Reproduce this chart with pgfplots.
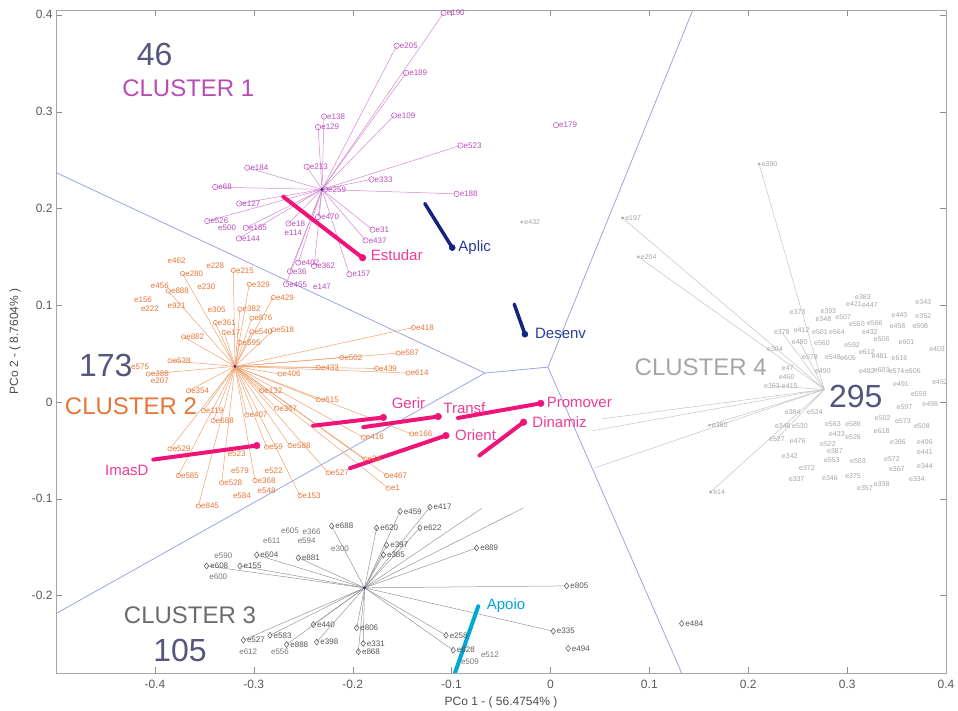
\documentclass[border=0pt]{standalone}
\usepackage{pgfplots}
\pgfplotsset{compat=1.18}
\usepackage{pgfplotstable}
\usepackage{fontspec}
\setmainfont{Liberation Sans}
\setsansfont{Liberation Sans}
\definecolor{c1}{RGB}{185,75,185}
\definecolor{c1l}{RGB}{210,135,210}
\definecolor{c2}{RGB}{230,118,55}
\definecolor{c2l}{RGB}{240,160,110}
\definecolor{c3}{RGB}{85,85,85}
\definecolor{c3l}{RGB}{150,150,150}
\definecolor{c4}{RGB}{165,165,165}
\definecolor{c4l}{RGB}{195,195,195}
\definecolor{pinkc}{RGB}{240,20,120}
\definecolor{pinkt}{RGB}{238,60,150}
\definecolor{navyc}{RGB}{20,35,130}
\definecolor{navyt}{RGB}{40,60,150}
\definecolor{cyanc}{RGB}{0,168,212}
\definecolor{vor}{RGB}{155,165,225}
\definecolor{numc}{RGB}{85,85,125}
\newcommand{\lab}{\fontsize{8}{8}\selectfont}
\newcommand{\labs}{\fontsize{7}{7}\selectfont}

\pgfplotstableread{
x y lab
-0.108 0.402 e190
-0.1555 0.368 e205
-0.146 0.340 e189
-0.158 0.296 e109
-0.229 0.295 e138
-0.235 0.284 e129
-0.091 0.265 e523
-0.095 0.215 e188
-0.181 0.230 e333
-0.2465 0.243 e213
-0.3066 0.242 e184
-0.339 0.222 e68
-0.3147 0.205 e127
-0.347 0.187 e526
-0.308 0.180 e185
-0.315 0.169 e144
-0.265 0.1845 e18
-0.235 0.191 e470
-0.180 0.178 e31
-0.187 0.167 e437
-0.2034 0.132 e157
-0.239 0.1405 e362
-0.255 0.144 e402
-0.2634 0.135 e36
-0.2674 0.1216 e455
-0.228 0.2196 e259
}\clA

\pgfplotstableread{
x y lab
-0.260 0.175 e114
-0.231 0.119 e147
-0.327 0.180 e500
}\clAt

\pgfplotstableread{
x y lab
-0.372 0.1327 e280
-0.3207 0.136 e215
-0.3046 0.1216 e329
-0.2803 0.108 e429
-0.314 0.0959 e382
-0.302 0.0866 e876
-0.339 0.082 e361
-0.330 0.072 e17
-0.302 0.0725 e540
-0.280 0.0745 e518
-0.371 0.0673 e882
-0.314 0.0615 e595
-0.3864 0.1147 e888
-0.3847 0.0426 e538
-0.2735 0.0289 e406
-0.211 0.046 e502
-0.154 0.0505 e587
-0.176 0.0347 e439
-0.144 0.0299 e614
-0.2348 0.0358 e433
-0.4067 0.0289 e388
-0.366 0.0117 e354
-0.292 0.0117 e132
-0.2348 0.0024 e615
-0.351 -0.009 e119
-0.307 -0.0134 e407
-0.2769 -0.0065 e367
-0.341 -0.0193 e688
-0.1893 -0.0364 e416
-0.1403 -0.033 e166
-0.1876 -0.0588 e24
-0.2247 -0.0732 e527
-0.1657 -0.076 e467
-0.164 -0.089 e1
-0.3847 -0.0485 e529
-0.287 -0.0467 e59
-0.2634 -0.045 e588
-0.3763 -0.076 e585
-0.3325 -0.0835 e528
-0.2988 -0.0811 e368
-0.2533 -0.0966 e153
-0.356 -0.1075 e845
-0.1387 0.077 e418
}\clB

\pgfplotstableread{
x y lab
-0.378 0.1457 e462
-0.339 0.141 e228
-0.348 0.119 e230
-0.412 0.106 e156
-0.405 0.096 e222
-0.378 0.099 e921
-0.395 0.120 e456
-0.415 0.036 e575
-0.395 0.022 e207
-0.314 -0.0708 e579
-0.280 -0.0708 e522
-0.312 -0.0972 e584
-0.287 -0.0914 e548
-0.3375 0.095 e305
-0.3173 -0.0536 e523
}\clBt

\pgfplotstableread{
x y lab
-0.2212 -0.1282 e688
-0.1758 -0.1302 e620
-0.152 -0.113 e459
-0.1218 -0.1086 e417
-0.132 -0.130 e622
-0.1657 -0.148 e397
-0.169 -0.158 e385
-0.255 -0.161 e881
-0.3477 -0.1694 e608
-0.314 -0.1694 e155
-0.297 -0.158 e604
-0.3106 -0.246 e527
-0.2836 -0.241 e583
-0.2668 -0.2505 e888
-0.2364 -0.248 e398
-0.2398 -0.230 e440
-0.196 -0.2333 e806
-0.1893 -0.2495 e331
-0.1943 -0.258 e868
-0.0747 -0.1508 e889
0.0164 -0.190 e805
0.0028 -0.2368 e335
-0.1056 -0.241 e258
-0.0983 -0.2564 e628
}\clC

\pgfplotstableread{
x y
-0.0696 -0.110
-0.0275 -0.1096
}\clCx

\pgfplotstableread{
x y lab
-0.2634 -0.1327 e605
-0.2415 -0.1344 e366
-0.2819 -0.143 e611
-0.2465 -0.143 e594
-0.3308 -0.1584 e590
-0.3359 -0.1807 e600
-0.2128 -0.1515 e300
-0.3056 -0.258 e612
-0.2735 -0.258 e556
-0.0814 -0.2684 e509
-0.0612 -0.2615 e512
}\clCt

\pgfplotstableread{
x y
0.211 0.246
0.073 0.190
0.0888 0.150
0.162 -0.093
0.1606 -0.024
0.0518 -0.0175
0.043 -0.0296
0.045 -0.068
0.234 0.072
0.224 0.0165
0.229 -0.038
0.252 0.062
}\clDl

\pgfplotstableread{
x y lab
0.211 0.246 e390
0.073 0.190 e197
0.0888 0.150 e204
0.162 -0.093 e14
0.1606 -0.024 e380
-0.029 0.186 e432
}\clDs

\pgfplotstableread{
x y lab
0.316 0.108 e383
0.307 0.101 e421
0.323 0.100 e447
0.377 0.103 e343
0.250 0.093 e373
0.281 0.094 e393
0.276 0.0856 e348
0.296 0.0876 e507
0.353 0.0897 e443
0.377 0.0887 e352
0.310 0.0804 e550
0.328 0.0814 e566
0.351 0.0784 e458
0.374 0.0784 e508
0.234 0.0722 e378
0.254 0.0742 e412
0.2725 0.0722 e501
0.2897 0.0722 e564
0.323 0.0722 e432
0.335 0.065 e506
0.360 0.0619 e601
0.391 0.0546 e403
0.252 0.0619 e480
0.2745 0.0608 e560
0.305 0.0588 e592
0.227 0.0546 e304
0.2624 0.0464 e578
0.2856 0.0464 e548
0.301 0.0454 e605
0.320 0.0515 e612
0.333 0.0474 e481
0.353 0.0454 e616
0.240 0.035 e47
0.2755 0.032 e490
0.320 0.032 e482
0.335 0.033 e603
0.350 0.032 e574
0.3665 0.032 e606
0.394 0.0206 e452
0.239 0.0258 e460
0.224 0.0165 e353
0.242 0.0165 e415
0.3545 0.0185 e491
0.3725 0.0085 e559
0.358 -0.0052 e597
0.384 -0.002 e498
0.245 -0.0103 e384
0.2675 -0.0103 e524
0.336 -0.0165 e502
0.235 -0.0247 e348
0.2523 -0.0247 e530
0.2856 -0.0227 e563
0.306 -0.0227 e589
0.3565 -0.0196 e573
0.3756 -0.0247 e508
0.2897 -0.033 e433
0.306 -0.036 e526
0.335 -0.030 e618
0.229 -0.038 e527
0.250 -0.040 e476
0.2806 -0.0433 e522
0.3514 -0.0412 e396
0.3787 -0.0412 e496
0.2877 -0.0505 e387
0.3787 -0.0515 e441
0.242 -0.0557 e342
0.311 -0.0608 e503
0.2846 -0.0598 e553
0.3453 -0.0588 e572
0.2594 -0.068 e372
0.3503 -0.069 e367
0.3787 -0.066 e344
0.249 -0.0794 e337
0.2826 -0.0784 e346
0.306 -0.0763 e375
0.335 -0.0845 e338
0.318 -0.0887 e357
0.3706 -0.0794 e334
}\clDt

\begin{document}
\begin{tikzpicture}
\useasboundingbox (0,0) rectangle (958pt,711pt);
\begin{axis}[
  at={(56pt,38pt)}, anchor=south west,
  scale only axis, width=890pt, height=663pt,
  xmin=-0.5, xmax=0.4, ymin=-0.28, ymax=0.405,
  xtick={-0.4,-0.3,-0.2,-0.1,0,0.1,0.2,0.3,0.4},
  ytick={-0.2,-0.1,0,0.1,0.2,0.3,0.4},
  /pgf/number format/assume math mode=true,
  ticklabel style={font=\fontsize{12}{12}\selectfont, text=black!65},
  xticklabel style={yshift=-4pt},
  axis line style={black!35},
  tick style={black!45},
  major tick length=6pt,
  xlabel={PCo 1 - ( 56.4754\% )},
  ylabel={PCo 2 - ( 8.7604\% )},
  label style={font=\fontsize{12}{12}\selectfont, text=black!70},
  xlabel style={at={(axis description cs:0.5,-0.044)}, anchor=center},
  ylabel style={at={(axis description cs:-0.046,0.5)}, anchor=center},
  clip=true,
]
% Voronoi boundaries
\addplot[vor, line width=0.8pt, mark=none] coordinates {(-0.5,0.237) (-0.0662,0.0299) (-0.5,-0.2186)};
\addplot[vor, line width=0.8pt, mark=none] coordinates {(-0.0662,0.0299) (-0.0025,0.036)};
\addplot[vor, line width=0.8pt, mark=none] coordinates {(0.144,0.405) (-0.0025,0.036) (0.1327,-0.28)};

% spokes
\addplot[c1l, line width=0.5pt, mark=none, quiver={u=\thisrow{x}+0.231, v=\thisrow{y}-0.2196}] table[x expr=-0.231, y expr=0.2196] {\clA};
\addplot[c2l, line width=0.5pt, mark=none, quiver={u=\thisrow{x}+0.319, v=\thisrow{y}-0.0368}] table[x expr=-0.319, y expr=0.0368] {\clB};
\addplot[c3l, line width=0.5pt, mark=none, quiver={u=\thisrow{x}+0.188, v=\thisrow{y}+0.192}] table[x expr=-0.188, y expr=-0.192] {\clC};
\addplot[c3l, line width=0.5pt, mark=none, quiver={u=\thisrow{x}+0.188, v=\thisrow{y}+0.192}] table[x expr=-0.188, y expr=-0.192] {\clCx};
\addplot[c4l, line width=0.5pt, mark=none, quiver={u=\thisrow{x}-0.277, v=\thisrow{y}-0.013}] table[x expr=0.277, y expr=0.013] {\clDl};

% cluster 1
\addplot[c1, only marks, mark=o, mark size=2.7pt, mark options={line width=0.5pt},
  nodes near coords, point meta=explicit symbolic,
  every node near coord/.append style={anchor=west, font=\lab, text=c1, inner sep=0pt, xshift=3pt}]
  table[meta=lab] {\clA};
\addplot[draw=none, mark=none, nodes near coords, point meta=explicit symbolic,
  every node near coord/.append style={anchor=center, font=\lab, text=c1, inner sep=0pt}]
  table[meta=lab] {\clAt};
\addplot[c1, only marks, mark=o, mark size=2.7pt, mark options={line width=0.5pt},
  nodes near coords, point meta=explicit symbolic,
  every node near coord/.append style={anchor=west, font=\lab, text=c1, inner sep=0pt, xshift=3pt}]
  table[meta=lab] {
x y lab
0.0056 0.286 e179
};

% cluster 2
\addplot[c2, only marks, mark=o, mark size=2.2pt, mark options={line width=0.5pt},
  nodes near coords, point meta=explicit symbolic,
  every node near coord/.append style={anchor=west, font=\lab, text=c2, inner sep=0pt, xshift=2.5pt}]
  table[meta=lab] {\clB};
\addplot[draw=none, mark=none, nodes near coords, point meta=explicit symbolic,
  every node near coord/.append style={anchor=center, font=\lab, text=c2, inner sep=0pt}]
  table[meta=lab] {\clBt};

% cluster 3
\addplot[c3, only marks, mark=diamond, mark size=3pt, mark options={line width=0.5pt},
  nodes near coords, point meta=explicit symbolic,
  every node near coord/.append style={anchor=west, font=\lab, text=c3, inner sep=0pt, xshift=3.5pt}]
  table[meta=lab] {\clC};
\addplot[c3, only marks, mark=diamond, mark size=3pt, mark options={line width=0.5pt},
  nodes near coords, point meta=explicit symbolic,
  every node near coord/.append style={anchor=west, font=\lab, text=c3, inner sep=0pt, xshift=3.5pt}]
  table[meta=lab] {
x y lab
0.018 -0.2546 e494
0.1327 -0.2289 e484
};
\addplot[draw=none, mark=none, nodes near coords, point meta=explicit symbolic,
  every node near coord/.append style={anchor=center, font=\lab, text=c3!80, inner sep=0pt}]
  table[meta=lab] {\clCt};

% cluster 4
\addplot[c4, only marks, mark=asterisk, mark size=1.6pt, mark options={line width=0.4pt},
  nodes near coords, point meta=explicit symbolic,
  every node near coord/.append style={anchor=west, font=\labs, text=c4, inner sep=0pt, xshift=2.5pt}]
  table[meta=lab] {\clDs};
\addplot[draw=none, mark=none, nodes near coords, point meta=explicit symbolic,
  every node near coord/.append style={anchor=center, font=\labs, text=c4, inner sep=0pt}]
  table[meta=lab] {\clDt};

% centroids
\addplot[only marks, mark=*, mark size=1.3pt, navyc!70!c1] coordinates {(-0.231,0.2196) (-0.319,0.0368) (-0.188,-0.192)};

% variable vectors
\addplot[pinkc, line width=4pt, line cap=round, mark=*, mark size=3.3pt, mark indices={2}, mark options={line width=0.5pt}] coordinates {(-0.2702,0.212) (-0.190,0.149)};
\addplot[navyc, line width=3.5pt, line cap=round, mark=*, mark size=3pt, mark indices={2}, mark options={line width=0.5pt}] coordinates {(-0.127,0.205) (-0.0993,0.1595)};
\addplot[navyc, line width=3.5pt, line cap=round, mark=*, mark size=3pt, mark indices={2}, mark options={line width=0.5pt}] coordinates {(-0.0366,0.101) (-0.0258,0.070)};
\addplot[pinkc, line width=4pt, line cap=round, mark=*, mark size=3.3pt, mark indices={2}, mark options={line width=0.5pt}] coordinates {(-0.240,-0.0245) (-0.169,-0.016)};
\addplot[pinkc, line width=4pt, line cap=round, mark=*, mark size=3.3pt, mark indices={2}, mark options={line width=0.5pt}] coordinates {(-0.1893,-0.026) (-0.1135,-0.015)};
\addplot[pinkc, line width=4pt, line cap=round, mark=*, mark size=3.3pt, mark indices={2}, mark options={line width=0.5pt}] coordinates {(-0.2027,-0.0684) (-0.1057,-0.0347)};
\addplot[pinkc, line width=4pt, line cap=round, mark=*, mark size=3.3pt, mark indices={2}, mark options={line width=0.5pt}] coordinates {(-0.0935,-0.0165) (-0.0098,-0.0014)};
\addplot[pinkc, line width=4pt, line cap=round, mark=*, mark size=3.3pt, mark indices={2}, mark options={line width=0.5pt}] coordinates {(-0.0718,-0.0553) (-0.0272,-0.0209)};
\addplot[pinkc, line width=4pt, line cap=round, mark=*, mark size=3.3pt, mark indices={2}, mark options={line width=0.5pt}] coordinates {(-0.4016,-0.0595) (-0.297,-0.045)};
\addplot[cyanc, line width=4pt, line cap=round, mark=*, mark size=3.3pt, mark indices={2}, mark options={line width=0.5pt}] coordinates {(-0.0983,-0.285) (-0.073,-0.211)};

% vector labels
\node[anchor=base west, font=\fontsize{15}{15}\selectfont, text=pinkt, inner sep=0pt] at (axis cs:-0.1818,0.1457) {Estudar};
\node[anchor=base west, font=\fontsize{15}{15}\selectfont, text=navyt, inner sep=0pt] at (axis cs:-0.0932,0.1553) {Aplic};
\node[anchor=base west, font=\fontsize{15}{15}\selectfont, text=navyt, inner sep=0pt] at (axis cs:-0.0157,0.066) {Desenv};
\node[anchor=base west, font=\fontsize{15}{15}\selectfont, text=pinkt, inner sep=0pt] at (axis cs:-0.1606,-0.0072) {Gerir};
\node[anchor=base west, font=\fontsize{15}{15}\selectfont, text=pinkt, inner sep=0pt] at (axis cs:-0.1084,-0.0124) {Transf};
\node[anchor=base west, font=\fontsize{15}{15}\selectfont, text=pinkt, inner sep=0pt] at (axis cs:-0.0966,-0.0399) {Orient};
\node[anchor=base west, font=\fontsize{15}{15}\selectfont, text=pinkt, inner sep=0pt] at (axis cs:-0.0039,-0.0062) {Promover};
\node[anchor=base west, font=\fontsize{15}{15}\selectfont, text=pinkt, inner sep=0pt] at (axis cs:-0.0184,-0.0261) {Dinamiz};
\node[anchor=base west, font=\fontsize{15}{15}\selectfont, text=pinkt, inner sep=0pt] at (axis cs:-0.4505,-0.076) {ImasD};
\node[anchor=base west, font=\fontsize{15}{15}\selectfont, text=cyanc, inner sep=0pt] at (axis cs:-0.0645,-0.2141) {Apoio};

% cluster annotations
\node[font=\fontsize{32}{32}\selectfont, text=numc, inner sep=0pt] at (axis cs:-0.4002,0.3588) {46};
\node[font=\fontsize{24}{24}\selectfont, text=c1, inner sep=0pt] at (axis cs:-0.3662,0.3237) {CLUSTER 1};
\node[font=\fontsize{32}{32}\selectfont, text=numc, inner sep=0pt] at (axis cs:-0.4496,0.0374) {173};
\node[font=\fontsize{24}{24}\selectfont, text=c2, inner sep=0pt] at (axis cs:-0.4242,-0.0041) {CLUSTER 2};
\node[font=\fontsize{24}{24}\selectfont, text=black!58, inner sep=0pt] at (axis cs:-0.3645,-0.2206) {CLUSTER 3};
\node[font=\fontsize{32}{32}\selectfont, text=numc, inner sep=0pt] at (axis cs:-0.3746,-0.2567) {105};
\node[font=\fontsize{24}{24}\selectfont, text=black!35, inner sep=0pt] at (axis cs:0.152,0.0354) {CLUSTER 4};
\node[font=\fontsize{32}{32}\selectfont, text=numc, inner sep=0pt] at (axis cs:0.3087,0.0057) {295};
\end{axis}
\end{tikzpicture}
\end{document}
